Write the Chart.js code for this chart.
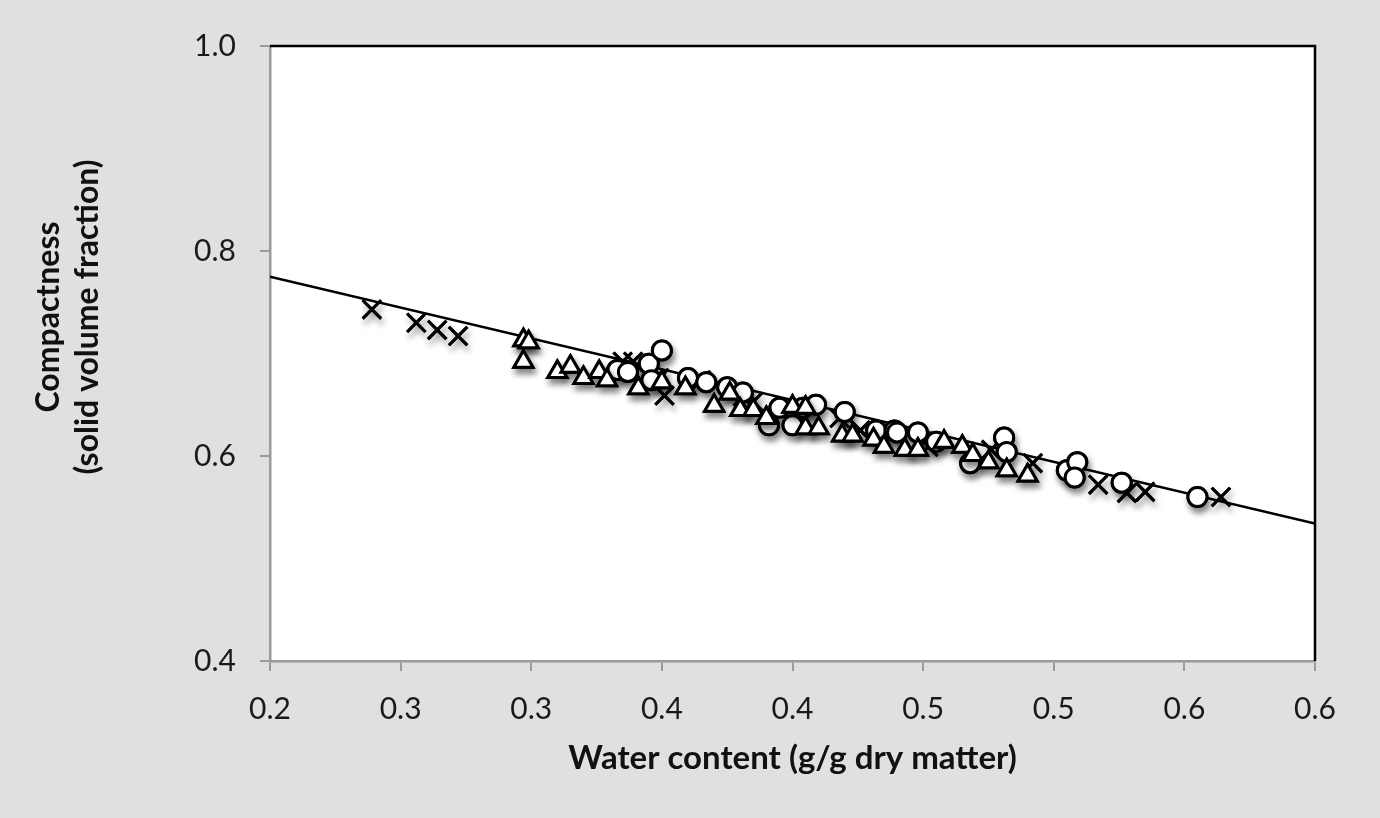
<!DOCTYPE html>
<html>
<head>
<meta charset="utf-8">
<script src="https://cdn.jsdelivr.net/npm/chart.js@4/dist/chart.umd.min.js"></script>
<style>
  body { margin: 0; background: #e0e0e0; }
  #wrap { width: 1380px; height: 818px; }
</style>
</head>
<body>
<div id="wrap"><canvas id="chart" width="1380" height="818"></canvas></div>
<script>
// tick labels as printed on the original (one decimal, so they repeat)
const xTickLabels = ['0.2', '0.3', '0.3', '0.4', '0.4', '0.5', '0.5', '0.6', '0.6'];
const yTickLabels = ['0.4', '0.6', '0.8', '1.0'];
const xTitle = 'Water content (g/g dry matter)';
const yTitle = ['Compactness', '(solid volume fraction)'];

// crosses
const crossX = [0.239, 0.256, 0.264, 0.272, 0.335, 0.339, 0.349, 0.351, 0.365, 0.381, 0.385, 0.418, 0.426, 0.452, 0.476, 0.492, 0.517, 0.528, 0.535, 0.564];
const crossY = [0.743, 0.730, 0.723, 0.717, 0.692, 0.692, 0.676, 0.659, 0.674, 0.658, 0.653, 0.637, 0.625, 0.609, 0.606, 0.593, 0.572, 0.564, 0.565, 0.560];

// open circles
const circleX = [0.333, 0.337, 0.345, 0.350, 0.346, 0.360, 0.367, 0.375, 0.381, 0.391, 0.395, 0.400, 0.404, 0.409, 0.420, 0.432, 0.439, 0.440, 0.448, 0.455, 0.468, 0.481, 0.482, 0.505, 0.509, 0.508, 0.526, 0.555];
const circleY = [0.684, 0.682, 0.690, 0.703, 0.674, 0.676, 0.672, 0.667, 0.662, 0.630, 0.647, 0.630, 0.647, 0.650, 0.643, 0.625, 0.625, 0.623, 0.623, 0.614, 0.593, 0.618, 0.604, 0.586, 0.594, 0.579, 0.574, 0.560];

// open triangles
const triX = [0.297, 0.299, 0.297, 0.310, 0.315, 0.320, 0.326, 0.329, 0.341, 0.350, 0.359, 0.370, 0.376, 0.380, 0.385, 0.390, 0.400, 0.405, 0.405, 0.410, 0.419, 0.423, 0.431, 0.435, 0.443, 0.448, 0.458, 0.465, 0.469, 0.475, 0.482, 0.490];
const triY = [0.713, 0.711, 0.692, 0.682, 0.687, 0.676, 0.682, 0.674, 0.666, 0.672, 0.666, 0.649, 0.661, 0.645, 0.645, 0.637, 0.648, 0.647, 0.627, 0.627, 0.620, 0.620, 0.616, 0.609, 0.606, 0.606, 0.614, 0.609, 0.601, 0.594, 0.586, 0.581];

// linear fit
const trendX = [0.2, 0.6];
const trendY = [0.775, 0.534];

const toPoints = (xs, ys) => xs.map((x, i) => ({ x: x, y: ys[i] }));

Chart.defaults.font.family = 'Lato';

// white plot area, black top/right frame, rotated two-line y title
const framePlugin = {
    id: 'frame',
    beforeDraw(chart) {
        const { ctx, chartArea: a } = chart;
        ctx.save();
        ctx.fillStyle = '#ffffff';
        ctx.fillRect(a.left, a.top, a.right - a.left, a.bottom - a.top);
        ctx.restore();
    },
    afterDraw(chart) {
        const { ctx, chartArea: a } = chart;
        ctx.save();
        ctx.strokeStyle = '#000';
        ctx.lineWidth = 2.5;
        ctx.beginPath();
        ctx.moveTo(a.left, a.top);
        ctx.lineTo(a.right, a.top);
        ctx.lineTo(a.right, a.bottom);
        ctx.stroke();

        ctx.translate(0, 317);
        ctx.rotate(-Math.PI / 2);
        ctx.fillStyle = '#111';
        ctx.font = 'bold 32px Lato';
        ctx.textAlign = 'center';
        ctx.textBaseline = 'middle';
        ctx.fillText(yTitle[0], 0, 49);
        ctx.fillText(yTitle[1], 0, 88);
        ctx.restore();
    }
};

// drop shadow under the markers: draw once with shadow, then again clean on top
const shadowPlugin = {
    id: 'markerShadow',
    beforeDatasetDraw(chart, args) {
        if (!args.meta._dataset.shadow) return;
        const ctx = chart.ctx;
        ctx.save();
        ctx.shadowColor = 'rgba(0,0,0,0.45)';
        ctx.shadowBlur = 6;
        ctx.shadowOffsetX = 2;
        ctx.shadowOffsetY = 5;
    },
    afterDatasetDraw(chart, args) {
        if (!args.meta._dataset.shadow) return;
        chart.ctx.restore();
        args.meta.controller.draw();
    }
};

const ctx = document.getElementById('chart').getContext('2d');
const chart = new Chart(ctx, {
    type: 'scatter',
    data: {
        datasets: [
            {
                label: 'triangles',
                data: toPoints(triX, triY),
                pointStyle: 'triangle',
                pointRadius: 11,
                pointBackgroundColor: '#fff',
                pointBorderColor: '#000',
                pointBorderWidth: 3,
                shadow: true
            },
            {
                label: 'circles',
                data: toPoints(circleX, circleY),
                pointStyle: 'circle',
                pointRadius: 9.5,
                pointBackgroundColor: '#fff',
                pointBorderColor: '#000',
                pointBorderWidth: 3,
                shadow: true
            },
            {
                label: 'crosses',
                data: toPoints(crossX, crossY),
                pointStyle: 'crossRot',
                pointRadius: 13,
                pointBorderColor: '#000',
                pointBorderWidth: 3,
                shadow: true
            },
            {
                label: 'fit',
                type: 'line',
                data: toPoints(trendX, trendY),
                showLine: true,
                borderColor: '#000',
                borderWidth: 2.5,
                pointRadius: 0,
                fill: false
            }
        ]
    },
    options: {
        responsive: false,
        animation: false,
        layout: { padding: { top: 46, right: 65, bottom: 0, left: 0 } },
        plugins: {
            legend: { display: false },
            tooltip: { enabled: false }
        },
        scales: {
            x: {
                type: 'linear',
                min: 0.2,
                max: 0.6,
                ticks: {
                    stepSize: 0.05,
                    autoSkip: false,
                    maxRotation: 0,
                    callback: (value, index) => xTickLabels[index],
                    font: { size: 30 },
                    color: '#1a1a1a',
                    padding: 20
                },
                grid: { drawOnChartArea: false, drawTicks: true, tickLength: 10, color: '#9a9a9a', lineWidth: 2 },
                border: { color: '#9a9a9a', width: 2.5 },
                title: {
                    display: true,
                    text: xTitle,
                    color: '#111',
                    font: { size: 33, weight: 'bold' },
                    padding: { top: 0, bottom: 40 }
                },
                afterFit(scale) { scale.height = 157; }
            },
            y: {
                min: 0.4,
                max: 1.0,
                ticks: {
                    stepSize: 0.2,
                    callback: (value, index) => yTickLabels[index],
                    font: { size: 30 },
                    color: '#1a1a1a',
                    padding: 24
                },
                grid: { drawOnChartArea: false, drawTicks: true, tickLength: 10, color: '#9a9a9a', lineWidth: 2 },
                border: { color: '#9a9a9a', width: 2.5 },
                afterFit(scale) { scale.width = 270; }
            }
        }
    },
    plugins: [framePlugin, shadowPlugin]
});
</script>
</body>
</html>
